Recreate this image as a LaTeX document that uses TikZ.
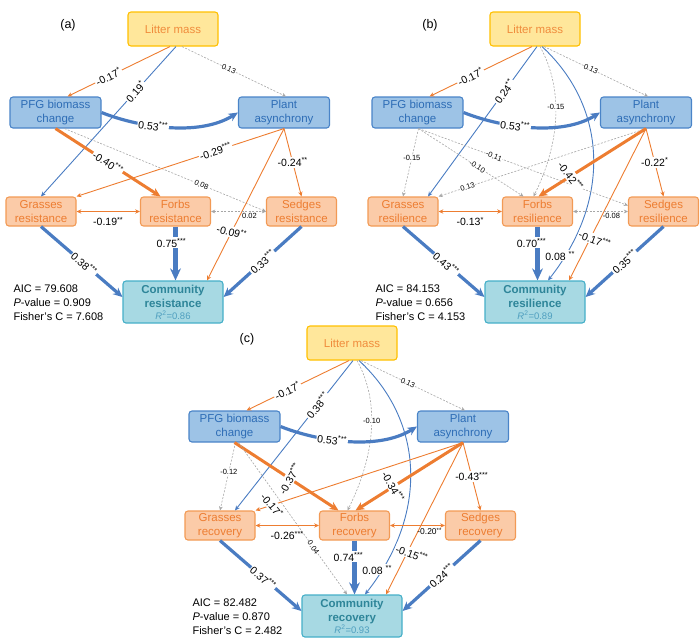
\documentclass[tikz,border=0pt]{standalone}
\usepackage{fontspec}
\setmainfont{Liberation Sans}
\usetikzlibrary{arrows.meta}

\definecolor{litterfill}{HTML}{FFE79B}
\definecolor{litterline}{HTML}{FFC000}
\definecolor{littertext}{HTML}{F08C3C}
\definecolor{bluefill}{HTML}{9DC3E6}
\definecolor{boxblue}{HTML}{4A84C8}
\definecolor{bluetext}{HTML}{2E6DB6}
\definecolor{orfill}{HTML}{FBCBA8}
\definecolor{boxorange}{HTML}{F29A55}
\definecolor{ortext}{HTML}{ED7D31}
\definecolor{commfill}{HTML}{A7D9E3}
\definecolor{boxteal}{HTML}{45AFC8}
\definecolor{commtext}{HTML}{2E8599}
\definecolor{rtext}{HTML}{4F9FBF}
\definecolor{edgeblue}{HTML}{4A7CC2}
\definecolor{edgeorange}{HTML}{ED7D31}
\definecolor{edgegray}{HTML}{A6A6A6}

\newcommand\fntbox{\fontsize{11.5}{14}\selectfont}
\newcommand\fntlab{\fontsize{10.5}{12}\selectfont}
\newcommand\fntmid{\fontsize{8.5}{10}\selectfont}
\newcommand\fntsmall{\fontsize{7.5}{9}\selectfont}
\newcommand\fntstat{\fontsize{11}{14}\selectfont}
\newcommand\fntpanel{\fontsize{12.5}{14}\selectfont}
\newcommand\fntr{\fontsize{9.5}{10}\selectfont}
\newcommand\sig[1]{\textsuperscript{#1}}

\tikzset{
  box/.style={rounded corners=3pt, line width=1.1pt, align=center, inner sep=0pt, font=\fntbox},
  litter/.style={box, draw=litterline, fill=litterfill, text=littertext, minimum width=90pt, minimum height=34pt},
  bluebox/.style={box, draw=boxblue, fill=bluefill, text=bluetext, minimum width=91pt, minimum height=31pt},
  orbox/.style={box, draw=boxorange, fill=orfill, text=ortext, minimum width=70pt, minimum height=29pt},
  commbox/.style={box, draw=boxteal, fill=commfill, text=commtext, minimum width=100pt, minimum height=42pt},
  bluepath/.style={->, draw=edgeblue, line width=0.9pt},
  orangepath/.style={->, draw=edgeorange, line width=0.9pt},
  graypath/.style={->, draw=edgegray, line width=0.6pt, dash pattern=on 2pt off 1.5pt},
  bigbluepath/.style={bluepath, line width=3.2pt},
  hugebluepath/.style={bluepath, line width=4.5pt},
  bigorangepath/.style={orangepath, line width=3pt},
  lab/.style={fill=white, inner sep=1pt, font=\fntlab, text=black},
  midlab/.style={lab, font=\fntmid},
  smalllab/.style={lab, inner sep=0.5pt, font=\fntsmall},
  stat/.style={anchor=west, align=left, font=\fntstat},
  panel/.style={font=\fntpanel},
}

% the seven boxes, fit indices and tag of one panel
\newcommand\semboxes[6]{%
  \node[litter] (#1-L) at (173,29) {Litter mass};
  \node[bluebox] (#1-P) at (55.5,112.5) {PFG biomass\\change};
  \node[bluebox] (#1-A) at (284,112.5) {Plant\\asynchrony};
  \node[orbox] (#1-G) at (41,211.5) {Grasses\\#2};
  \node[orbox] (#1-F) at (175.5,211.5) {Forbs\\#2};
  \node[orbox] (#1-S) at (301.5,211.5) {Sedges\\#2};
  \node[commbox] (#1-C) at (173,302) {\textbf{Community}\\\textbf{#2}\\[-2pt]{\fntr\color{rtext}\textit{R}\textsuperscript{2}=#3}};
  \node[stat] (#1-fit) at (10,303) {AIC = #4\\\textit{P}-value = #5\\Fisher's C = #6};
  \node[panel] (#1-tag) at (68,25) {(#1)};
}

\begin{document}
\begin{tikzpicture}[x=1pt, y=-1pt, >={Stealth[length=3pt 2, width'=0pt 0.9]}]
  \useasboundingbox (0,0) rectangle (700,638);

  % (a) resistance
  \begin{scope}
    \semboxes{a}{resistance}{0.86}{79.608}{0.909}{7.608}
    \draw[orangepath] ([xshift=-3pt]a-L.south) -- node[lab, sloped, pos=.6] {-0.17\sig{*}} ([xshift=12pt]a-P.north);
    \draw[bluepath] ([xshift=3pt]a-L.south) -- node[lab, sloped, pos=.3] {0.19\sig{*}} (a-G.north);
    \draw[graypath] ([xshift=9pt]a-L.south) -- node[smalllab, sloped, pos=.45] {0.13} ([xshift=2pt]a-A.north);
    \draw[bigbluepath] (a-P.east) .. controls +(35,14) and +(-40,25) .. node[lab, sloped, pos=.4] {0.53\sig{***}} (a-A.west);
    \draw[bigorangepath] (a-P.south) -- node[lab, sloped, pos=.5] {-0.40\sig{***}} ([xshift=-15pt]a-F.north);
    \draw[graypath] ([xshift=9pt]a-P.south) -- node[smalllab, sloped, pos=.68] {0.08} (a-S.west);
    \draw[orangepath] (a-A.south) -- node[lab, sloped, pos=.33] {-0.29\sig{***}} (a-G.north east);
    \draw[orangepath] (a-A.south) -- node[lab, pos=.5] {-0.24\sig{**}} (a-S.north);
    \draw[orangepath] (a-A.south) -- node[lab, pos=.68, rotate=-15] {-0.09\sig{**}} ([xshift=34pt]a-C.north);
    \draw[orangepath, <->] (a-G.east) -- node[lab, below=4pt, fill=none] {-0.19\sig{**}} (a-F.west);
    \draw[graypath, <->] (a-F.east) -- node[smalllab, pos=.7, below=1pt, fill=none] {0.02} (a-S.west);
    \draw[hugebluepath] (a-F.south) -- node[lab, pos=.3, xshift=-4pt] {0.75\sig{***}} (a-F.south |- a-C.north);
    \draw[bigbluepath] (a-G.south) -- node[lab, sloped, pos=.53] {0.38\sig{***}} ([yshift=5pt]a-C.west);
    \draw[bigbluepath] (a-S.south) -- node[lab, sloped, pos=.5] {0.33\sig{***}} ([yshift=5pt]a-C.east);
  \end{scope}

  % (b) resilience
  \begin{scope}[shift={(362,0)}]
    \semboxes{b}{resilience}{0.89}{84.153}{0.656}{4.153}
    \draw[orangepath] ([xshift=-3pt]b-L.south) -- node[lab, sloped, pos=.6] {-0.17\sig{*}} ([xshift=12pt]b-P.north);
    \draw[bluepath] ([xshift=2pt]b-L.south) -- node[lab, sloped, pos=.3] {0.24\sig{**}} ([xshift=25pt]b-G.north);
    \draw[graypath] ([xshift=9pt]b-L.south) -- node[smalllab, sloped, pos=.45] {0.13} ([xshift=2pt]b-A.north);
    \draw[graypath] ([xshift=5pt]b-L.south) .. controls +(25,45) and +(25,-50) .. node[smalllab, pos=.42] {-0.15} ([xshift=-4pt]b-F.north);
    \draw[bluepath] ([xshift=7pt]b-L.south) .. controls +(65,60) and +(64,-81) .. node[lab, pos=.9, xshift=-5pt] {0.08 \sig{**}} ([xshift=13pt]b-C.north);
    \draw[bigbluepath] (b-P.east) .. controls +(35,14) and +(-40,25) .. node[lab, sloped, pos=.4] {0.53\sig{***}} (b-A.west);
    \draw[graypath] ([xshift=1pt]b-P.south) -- node[smalllab, pos=.43] {-0.15} (b-G.north);
    \draw[graypath] ([xshift=1pt]b-P.south) -- node[smalllab, sloped, pos=.56] {-0.10} ([xshift=-14pt]b-F.north);
    \draw[graypath] ([xshift=1pt]b-P.south) -- node[smalllab, sloped, pos=.36] {-0.11} ([yshift=6pt]b-S.west);
    \draw[graypath] (b-A.south) -- node[smalllab, sloped, pos=.86] {0.13} (b-G.north east);
    \draw[bigorangepath] (b-A.south) -- node[lab, pos=.7, rotate=-52] {-0.42\sig{***}} ([xshift=1pt]b-F.north);
    \draw[orangepath] (b-A.south) -- node[lab, pos=.5] {-0.22\sig{*}} (b-S.north);
    \draw[orangepath] (b-A.south) -- node[lab, pos=.73, xshift=5pt, rotate=-20] {-0.17\sig{***}} ([xshift=34pt]b-C.north);
    \draw[orangepath, <->] (b-G.east) -- node[lab, below=4pt, fill=none] {-0.13\sig{*}} (b-F.west);
    \draw[graypath, <->] (b-F.east) -- node[smalllab, pos=.7, below=1pt, fill=none] {-0.08} (b-S.west);
    \draw[hugebluepath] (b-F.south) -- node[lab, pos=.3, xshift=-6pt] {0.70\sig{***}} (b-F.south |- b-C.north);
    \draw[bigbluepath] (b-G.south) -- node[lab, sloped, pos=.53] {0.43\sig{***}} ([yshift=5pt]b-C.west);
    \draw[bigbluepath] (b-S.south) -- node[lab, sloped, pos=.5] {0.35\sig{***}} ([yshift=5pt]b-C.east);
  \end{scope}

  % (c) recovery
  \begin{scope}[shift={(179,314)}]
    \semboxes{c}{recovery}{0.93}{82.482}{0.870}{2.482}
    \draw[orangepath] ([xshift=-3pt]c-L.south) -- node[lab, sloped, pos=.6] {-0.17\sig{*}} ([xshift=12pt]c-P.north);
    \draw[bluepath] ([xshift=1pt]c-L.south) -- node[lab, sloped, pos=.3] {0.38\sig{***}} ([xshift=15pt]c-G.north);
    \draw[graypath] ([xshift=9pt]c-L.south) -- node[smalllab, sloped, pos=.45] {0.13} ([xshift=2pt]c-A.north);
    \draw[graypath] ([xshift=5pt]c-L.south) .. controls +(25,45) and +(25,-50) .. node[smalllab, pos=.42] {-0.10} ([xshift=-7pt]c-F.north);
    \draw[bluepath] ([xshift=7pt]c-L.south) .. controls +(65,60) and +(64,-81) .. node[lab, pos=.9, xshift=-5pt] {0.08 \sig{**}} ([xshift=13pt]c-C.north);
    \draw[bigbluepath] (c-P.east) .. controls +(35,14) and +(-40,25) .. node[lab, sloped, pos=.4] {0.53\sig{***}} (c-A.west);
    \draw[graypath] ([xshift=1pt]c-P.south) -- node[smalllab, pos=.43] {-0.12} (c-G.north);
    \draw[bigorangepath] (c-P.south) -- node[lab, pos=.53, rotate=60] {-0.37\sig{***}} ([xshift=-16pt]c-F.north);
    \draw[graypath] ([xshift=4pt]c-P.south) -- node[smalllab, sloped, pos=.69] {0.04} ([xshift=-5pt]c-C.north);
    \draw[orangepath] (c-A.south) -- node[lab, pos=.92, rotate=-50] {-0.17\sig{*}} (c-G.north east);
    \draw[bigorangepath] (c-A.south) -- node[lab, pos=.65, rotate=-60] {-0.34\sig{***}} ([xshift=1pt]c-F.north);
    \draw[orangepath] (c-A.south) -- node[lab, pos=.5] {-0.43\sig{***}} (c-S.north);
    \draw[orangepath] (c-A.south) -- node[lab, pos=.73, xshift=5pt, rotate=-20] {-0.15\sig{***}} ([xshift=34pt]c-C.north);
    \draw[orangepath, <->] (c-G.east) -- node[lab, below=4pt, fill=none] {-0.26\sig{***}} (c-F.west);
    \draw[orangepath, <->] (c-F.east) -- node[midlab, pos=.72, below=1pt, fill=none] {-0.20\sig{**}} (c-S.west);
    \draw[hugebluepath] (c-F.south) -- node[lab, pos=.3, xshift=-6pt] {0.74\sig{***}} (c-F.south |- c-C.north);
    \draw[bigbluepath] (c-G.south) -- node[lab, sloped, pos=.53] {0.37\sig{***}} ([yshift=5pt]c-C.west);
    \draw[bigbluepath] (c-S.south) -- node[lab, sloped, pos=.5] {0.24\sig{***}} ([yshift=5pt]c-C.east);
  \end{scope}
\end{tikzpicture}
\end{document}
